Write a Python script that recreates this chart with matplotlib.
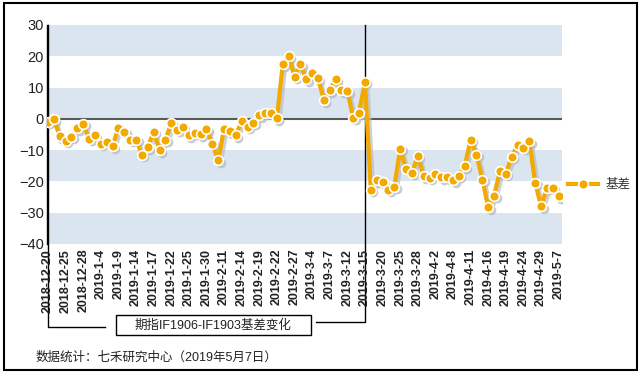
import matplotlib
matplotlib.use('Agg')
import matplotlib.pyplot as plt
from matplotlib import transforms
from matplotlib.patches import Rectangle

plt.rcParams['font.family'] = ['Liberation Sans', 'Noto Sans CJK SC']

# every third trading day is labelled on the axis
tick_labels = ['2018-12-20', '2018-12-25', '2018-12-28', '2019-1-4', '2019-1-9',
               '2019-1-14', '2019-1-17', '2019-1-22', '2019-1-25', '2019-1-30',
               '2019-2-11', '2019-2-14', '2019-2-19', '2019-2-22', '2019-2-27',
               '2019-3-4', '2019-3-7', '2019-3-12', '2019-3-15', '2019-3-20',
               '2019-3-25', '2019-3-28', '2019-4-2', '2019-4-8', '2019-4-11',
               '2019-4-16', '2019-4-19', '2019-4-24', '2019-4-29', '2019-5-7']

# IF1906-IF1903 basis, one value per trading day
basis = [-1.0, -0.1, -5.6, -7.0, -5.7, -3.0, -1.6, -6.4, -5.3, -8.0,
         -7.3, -8.7, -2.8, -4.2, -6.7, -6.6, -11.4, -9.1, -4.1, -10.0,
         -6.7, -1.4, -3.5, -2.6, -5.3, -4.4, -5.0, -3.4, -8.0, -13.3,
         -3.1, -3.9, -5.3, -0.7, -2.5, -1.2, 1.1, 2.0, 1.8, 0.2,
         17.4, 20.0, 13.5, 17.5, 12.7, 14.6, 13.0, 6.0, 9.1, 12.7,
         9.1, 8.9, 0.3, 2.0, 11.8, -22.7, -19.7, -20.2, -22.6, -21.7,
         -9.6, -16.0, -17.2, -11.9, -18.3, -18.8, -17.5, -18.6, -18.6, -19.7,
         -18.2, -15.1, -6.7, -11.4, -19.4, -28.3, -24.5, -16.7, -17.5, -12.1,
         -8.4, -9.2, -7.1, -20.4, -27.9, -22.1, -22.1, -24.7]

switch_day = 54  # 2019-3-15, contract roll

x = list(range(len(basis)))
orange = '#f2a900'

fig = plt.figure(figsize=(6.42, 3.75), dpi=100)
ax = fig.add_axes([46.8 / 642, 1 - 244 / 375, 514.8 / 642, 219 / 375])
ax.set_xlim(-0.2, 87.5)
ax.set_ylim(-40, 30)

# striped background
for lo in (20, 0, -20, -40):
    ax.axhspan(lo, lo + 10, color='#dae5f0', lw=0, zorder=0)
ax.axhline(0, color='#5a5a5a', lw=1.5, zorder=1)

# shadow under the line
shadow = transforms.offset_copy(ax.transData, fig=fig, x=2.5, y=-2.5, units='dots')
ax.plot(x, basis, color='#b8bdc5', lw=3, marker='o', ms=6, mec='#b8bdc5',
        transform=shadow, alpha=0.7, zorder=2)
line, = ax.plot(x, basis, color=orange, lw=3, marker='o', ms=7, mfc=orange,
                mec='white', mew=1.2, zorder=3, label='基差')

ax.set_xticks(range(0, len(basis), 3))
ax.set_xticklabels(tick_labels, rotation=90, fontsize=9, fontweight='bold', color='#222222')
ax.set_yticks(range(-40, 31, 10))
ax.tick_params(axis='y', length=0, labelsize=10.5, labelcolor='#222222', pad=2)
ax.tick_params(axis='x', length=0, pad=3.5)
for s in ('top', 'right', 'bottom'):
    ax.spines[s].set_visible(False)
ax.spines['left'].set_color('black')
ax.spines['left'].set_linewidth(1)

# bracket lines linking the period to the caption box
bt = transforms.blended_transform_factory(ax.transData, ax.transAxes)
ax.plot([0, 0, 9.7], [1, -0.379, -0.379], color='black', lw=1, transform=bt, clip_on=False, zorder=1.5)
ax.plot([switch_day, switch_day, 45.7], [1, -0.356, -0.356], color='black', lw=1,
        transform=bt, clip_on=False, zorder=1.5)

fig.patches.append(Rectangle((116 / 642, 1 - 335 / 375), 195 / 642, 20 / 375, transform=fig.transFigure,
                             fc='white', ec='black', lw=1))
fig.text(213 / 642, 1 - 325 / 375, '期指IF1906-IF1903基差变化', ha='center', va='center',
         fontsize=9, color='#222222')

fig.text(36 / 642, 1 - 358 / 375, '数据统计：七禾研究中心（2019年5月7日）', ha='left', va='center',
         fontsize=9, color='#222222')

fig.legend(handles=[line], loc='center left', bbox_to_anchor=(568 / 642, 1 - 185 / 375),
           frameon=False, fontsize=9, handlelength=2.4, handletextpad=0.6,
           borderpad=0, borderaxespad=0, labelcolor='#333333')

# outer frame
fig.patches.append(Rectangle((4 / 642, 5 / 375), 633 / 642, 367 / 375, transform=fig.transFigure,
                             fill=False, ec='black', lw=1.5))

fig.savefig('out.png', dpi=100)
